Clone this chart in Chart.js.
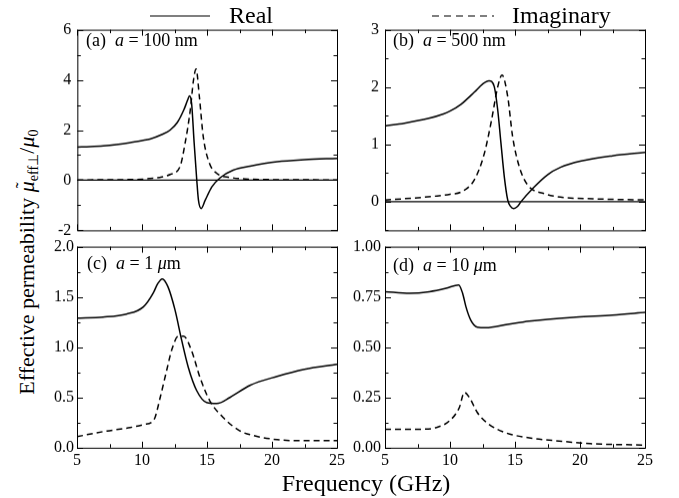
<!DOCTYPE html>
<html>
<head>
<meta charset="utf-8">
<script src="https://cdn.jsdelivr.net/npm/chart.js@4"></script>
<style>
  body { margin: 0; background: #fff; }
  #wrap { position: relative; width: 679px; height: 498px; overflow: hidden; font-family: "Liberation Serif", "Times New Roman", serif; color: #000; }
  canvas { position: absolute; }
  .txt { position: absolute; white-space: nowrap; }
  .lab { font-size: 18px; line-height: 20px; }
  sub { font-size: 65%; vertical-align: -0.3em; line-height: 0; }
  .tl { position: relative; display: inline-block; }
  .tld { position: absolute; left: 4px; top: -4px; font-size: 18px; }
</style>
</head>
<body>
<div id="wrap">
  <canvas id="pa"></canvas>
  <canvas id="pb"></canvas>
  <canvas id="pc"></canvas>
  <canvas id="pd"></canvas>

  <svg class="txt" style="left:148px;top:8px" width="64" height="16"><line x1="2" y1="8" x2="62" y2="8" stroke="#000" stroke-width="1.2"/></svg>
  <div class="txt" style="left:229px;top:1px;font-size:24px;line-height:28px">Real</div>
  <svg class="txt" style="left:430px;top:8px" width="66" height="16"><line x1="2" y1="8" x2="64" y2="8" stroke="#000" stroke-width="1.2" stroke-dasharray="7,5"/></svg>
  <div class="txt" style="left:512px;top:1px;font-size:24px;line-height:28px">Imaginary</div>

  <div class="txt lab" style="left:86px;top:30px">(a)&nbsp;&nbsp;<i>a</i> = 100 nm</div>
  <div class="txt lab" style="left:393px;top:30px">(b)&nbsp;&nbsp;<i>a</i> = 500 nm</div>
  <div class="txt lab" style="left:87px;top:253px">(c)&nbsp;&nbsp;<i>a</i> = 1 <i>μ</i>m</div>
  <div class="txt lab" style="left:393px;top:255px">(d)&nbsp;&nbsp;<i>a</i> = 10 <i>μ</i>m</div>

  <div class="txt" style="left:216px;top:469px;width:300px;text-align:center;font-size:24px;line-height:28px">Frequency (GHz)</div>
  <div class="txt" style="left:-133px;top:247px;width:320px;height:30px;text-align:center;font-size:22px;line-height:30px;transform:rotate(-90deg)">Effective permeability <span class="tl"><i>μ</i><span class="tld">˜</span></span><sub>eff⊥</sub>/<i>μ</i><sub>0</sub></div>
</div>

<script>
// (a) a = 100 nm
const aFreqRe = [5, 6, 7, 8, 9, 10, 10.6, 11.5, 12.15, 12.7, 13.2, 13.5, 13.64, 13.8, 14.0, 14.2, 14.33, 14.54, 14.85, 15.36, 16, 17, 18.3, 20.4, 22.5, 25];
const aRe     = [1.32, 1.34, 1.37, 1.42, 1.49, 1.58, 1.64, 1.82, 2.0, 2.3, 2.8, 3.2, 3.36, 3.07, 1.47, 0, -0.8, -1.13, -0.8, -0.27, 0.1, 0.4, 0.56, 0.74, 0.82, 0.87];
const aFreqIm = [5, 8, 10, 10.6, 11.5, 12.15, 12.9, 13.3, 13.7, 13.95, 14.15, 14.4, 14.7, 15.18, 15.75, 16.8, 18.3, 21, 25];
const aIm     = [0.01, 0.02, 0.04, 0.07, 0.13, 0.23, 0.53, 1.47, 2.8, 4.0, 4.43, 3.33, 1.73, 0.67, 0.27, 0.11, 0.04, 0.02, 0.01];

// (b) a = 500 nm
const bFreqRe = [5, 6.5, 8.3, 9.5, 10, 10.85, 11.87, 12.5, 13.0, 13.4, 13.67, 13.92, 14.18, 14.44, 14.65, 14.9, 15.2, 15.46, 16.36, 17.5, 18.5, 20.1, 22.5, 25];
const bRe     = [1.32, 1.37, 1.45, 1.53, 1.58, 1.7, 1.91, 2.05, 2.11, 2.01, 1.6, 1.02, 0.43, 0.03, -0.08, -0.12, -0.08, 0, 0.23, 0.47, 0.6, 0.71, 0.8, 0.86];
const bFreqIm = [5, 7, 9, 10, 10.85, 11.87, 12.64, 13.15, 13.67, 14.0, 14.44, 14.82, 15.33, 15.98, 17.25, 18.5, 21, 25];
const bIm     = [0.03, 0.06, 0.1, 0.13, 0.17, 0.38, 0.84, 1.37, 2.0, 2.21, 1.83, 1.13, 0.61, 0.29, 0.14, 0.08, 0.05, 0.03];

// (c) a = 1 um
const cFreqRe = [5, 7, 8.8, 10.1, 10.87, 11.2, 11.56, 12.0, 12.54, 13.05, 13.56, 14.2, 14.97, 15.75, 16.77, 18.3, 20.4, 22.5, 25];
const cRe     = [1.29, 1.30, 1.33, 1.40, 1.54, 1.63, 1.68, 1.60, 1.37, 1.07, 0.80, 0.57, 0.45, 0.44, 0.50, 0.62, 0.71, 0.78, 0.83];
const cFreqIm = [5, 7, 9.08, 10.1, 10.8, 11.0, 11.4, 11.9, 12.28, 12.8, 13.2, 13.8, 14.46, 15.2, 16.25, 17.5, 18.6, 20.4, 22, 25];
const cIm     = [0.11, 0.16, 0.2, 0.23, 0.26, 0.30, 0.50, 0.77, 0.97, 1.11, 1.11, 0.97, 0.70, 0.47, 0.30, 0.17, 0.12, 0.08, 0.07, 0.07];

// (d) a = 10 um
const dFreqRe = [5, 6.9, 8.42, 9.7, 10.67, 10.97, 11.23, 11.6, 12.1, 12.77, 14.3, 16.1, 19.7, 22.5, 25];
const dRe     = [0.776, 0.768, 0.776, 0.793, 0.81, 0.768, 0.70, 0.634, 0.60, 0.597, 0.612, 0.63, 0.65, 0.66, 0.673];
const dFreqIm = [5, 8, 8.93, 9.95, 10.72, 11.1, 11.49, 12.1, 13.0, 14.3, 16.1, 18.4, 20.8, 25];
const dIm     = [0.091, 0.092, 0.10, 0.133, 0.20, 0.275, 0.25, 0.175, 0.116, 0.074, 0.049, 0.033, 0.02, 0.013];

const xTicksMajor = 5;

const pts = (xs, ys) => xs.map((x, i) => ({x: x, y: ys[i]}));
const isMajor = (v, step) => Math.abs(v / step - Math.round(v / step)) < 1e-6;

// frame and inward ticks on all four sides
const frameTicks = {
    id: 'frameTicks',
    afterDatasetsDraw(chart, args, opts) {
        const {ctx, chartArea: a, scales: {x, y}} = chart;
        ctx.save();
        ctx.strokeStyle = '#000';
        ctx.lineWidth = 1;
        ctx.strokeRect(a.left + 0.5, a.top + 0.5, a.right - a.left, a.bottom - a.top);
        ctx.beginPath();
        x.ticks.forEach(t => {
            const px = Math.round(x.getPixelForValue(t.value)) + 0.5;
            const len = isMajor(t.value, xTicksMajor) ? 6 : 3.5;
            ctx.moveTo(px, a.bottom); ctx.lineTo(px, a.bottom - len);
            ctx.moveTo(px, a.top); ctx.lineTo(px, a.top + len);
        });
        y.ticks.forEach(t => {
            const py = Math.round(y.getPixelForValue(t.value)) + 0.5;
            const len = isMajor(t.value, opts.yMajor) ? 6 : 3.5;
            ctx.moveTo(a.left, py); ctx.lineTo(a.left + len, py);
            ctx.moveTo(a.right, py); ctx.lineTo(a.right - len, py);
        });
        ctx.stroke();
        ctx.restore();
    }
};

const panelConfig = (p) => {
    const datasets = [
        {data: pts(p.freqRe, p.re), borderColor: '#000', borderWidth: 1.5},
        {data: pts(p.freqIm, p.im), borderColor: '#000', borderWidth: 1.5, borderDash: [6, 4]}
    ];
    if (p.zero) {
        datasets.push({data: [{x: 5, y: 0}, {x: 25, y: 0}], borderColor: '#000', borderWidth: 1.3});
    }
    return {
        type: 'line',
        data: {datasets: datasets},
        options: {
            responsive: false,
            maintainAspectRatio: false,
            animation: false,
            devicePixelRatio: 1,
            layout: {padding: {top: 12, right: 16, left: 4, bottom: 4}},
            elements: {
                point: {radius: 0},
                line: {cubicInterpolationMode: 'monotone', fill: false}
            },
            plugins: {
                legend: {display: false},
                tooltip: {enabled: false},
                frameTicks: {yMajor: p.yMajor}
            },
            scales: {
                x: {
                    type: 'linear', min: 5, max: 25,
                    grid: {display: false, drawTicks: false}, border: {display: false},
                    ticks: {
                        display: p.showX, stepSize: 2.5, autoSkip: false, maxRotation: 0, padding: 3,
                        color: '#000', font: {family: 'Liberation Serif', size: 16},
                        callback: (v) => isMajor(v, xTicksMajor) ? String(v) : ''
                    }
                },
                y: {
                    type: 'linear', min: p.yMin, max: p.yMax,
                    grid: {display: false, drawTicks: false}, border: {display: false},
                    ticks: {
                        stepSize: p.yStep, autoSkip: false, padding: p.yPad,
                        color: '#000', font: {family: 'Liberation Serif', size: 16},
                        callback: (v) => isMajor(v, p.yMajor) ? p.fmt(v) : ''
                    }
                }
            }
        },
        plugins: [frameTicks]
    };
};

// size the canvas until the plot area is exactly R-L by B-T, then place it
const makePanel = (id, p) => {
    const cv = document.getElementById(id);
    let w = (p.R - p.L) + 60, h = (p.B - p.T) + 40;
    let chart = null;
    for (let k = 0; k < 3; k++) {
        if (chart) chart.destroy();
        cv.width = w; cv.height = h;
        cv.style.width = w + 'px'; cv.style.height = h + 'px';
        chart = new Chart(cv.getContext('2d'), panelConfig(p));
        const a = chart.chartArea;
        w += (p.R - p.L) - (a.right - a.left);
        h += (p.B - p.T) - (a.bottom - a.top);
    }
    const a = chart.chartArea;
    cv.style.left = (p.L - a.left) + 'px';
    cv.style.top = (p.T - a.top) + 'px';
};

makePanel('pa', {L: 77, T: 30, R: 337, B: 230, yPad: 6, showX: false, zero: true,
    yMin: -2, yMax: 6, yStep: 1, yMajor: 2, fmt: (v) => String(Math.round(v)),
    freqRe: aFreqRe, re: aRe, freqIm: aFreqIm, im: aIm});
makePanel('pb', {L: 385, T: 30, R: 645, B: 230, yPad: 6, showX: false, zero: true,
    yMin: -0.5, yMax: 3, yStep: 0.5, yMajor: 1, fmt: (v) => String(Math.round(v)),
    freqRe: bFreqRe, re: bRe, freqIm: bFreqIm, im: bIm});
makePanel('pc', {L: 77, T: 247, R: 337, B: 447, yPad: 3, showX: true, zero: false,
    yMin: 0, yMax: 2, yStep: 0.25, yMajor: 0.5, fmt: (v) => v.toFixed(1),
    freqRe: cFreqRe, re: cRe, freqIm: cFreqIm, im: cIm});
makePanel('pd', {L: 385, T: 247, R: 645, B: 447, yPad: 4, showX: true, zero: false,
    yMin: 0, yMax: 1, yStep: 0.125, yMajor: 0.25, fmt: (v) => v.toFixed(2),
    freqRe: dFreqRe, re: dRe, freqIm: dFreqIm, im: dIm});
</script>
</body>
</html>
